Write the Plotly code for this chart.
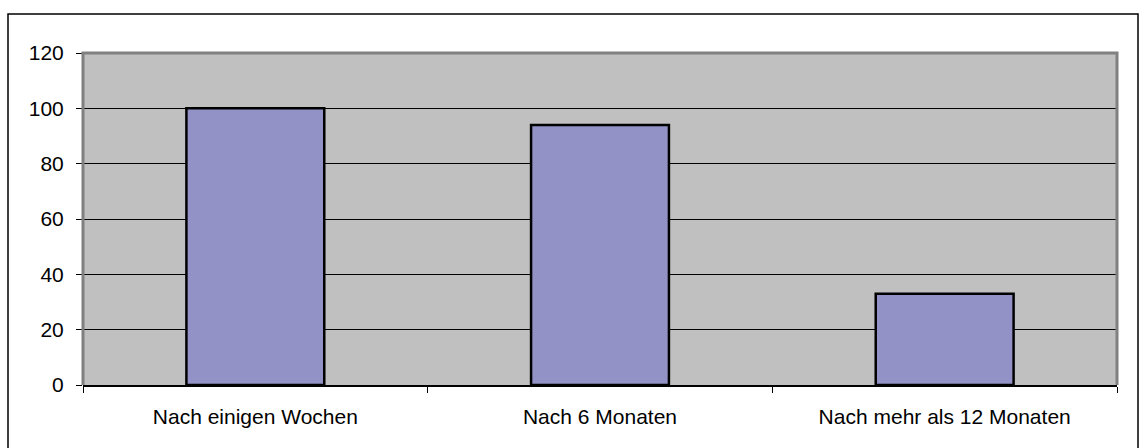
import plotly.graph_objects as go

categories = ["Nach einigen Wochen", "Nach 6 Monaten", "Nach mehr als 12 Monaten"]
values = [100, 94, 33]
y_ticks = [0, 20, 40, 60, 80, 100, 120]

W, H = 1141, 448
L, R, T, B = 83, 24, 53, 63
pw, ph = W - L - R, H - T - B

def px_x(x):
    return (x - L) / pw

def px_y(y):
    return (H - B - y) / ph

fig = go.Figure(
    go.Bar(
        x=categories,
        y=values,
        marker=dict(color="#9292C6", line=dict(color="#000000", width=2.5)),
        width=0.4,
    )
)

font = dict(family="Liberation Sans, Arial, sans-serif", size=21, color="#000000")

fig.update_layout(
    width=W,
    height=H,
    margin=dict(l=L, r=R, t=T, b=B),
    paper_bgcolor="#FFFFFF",
    plot_bgcolor="#C0C0C0",
    showlegend=False,
    font=font,
    xaxis=dict(
        type="category",
        showgrid=False,
        showline=True,
        linecolor="#000000",
        linewidth=2,
        ticks="outside",
        tickson="boundaries",
        ticklen=6,
        tickcolor="#000000",
        tickwidth=1,
        ticklabelstandoff=12,
        tickfont=font,
    ),
    yaxis=dict(
        range=[0, 120],
        tickvals=y_ticks,
        showgrid=True,
        gridcolor="#000000",
        gridwidth=1,
        zeroline=False,
        showline=False,
        ticks="outside",
        ticklen=6,
        tickcolor="#000000",
        tickwidth=1,
        ticklabelstandoff=8,
        tickfont=font,
    ),
    shapes=[
        # grey frame around the plotting area (left, top, right)
        dict(
            type="path",
            xref="paper",
            yref="paper",
            path="M 0 0 L 0 1 L 1 1 L 1 0",
            line=dict(color="#808080", width=3),
            layer="above",
        ),
        # outer chart border
        dict(
            type="rect",
            xref="paper",
            yref="paper",
            x0=px_x(8),
            x1=px_x(1138),
            y0=px_y(460),
            y1=px_y(14),
            line=dict(color="#000000", width=1.5),
            fillcolor="rgba(0,0,0,0)",
            layer="below",
        ),
    ],
)

fig.write_html("out.html")
